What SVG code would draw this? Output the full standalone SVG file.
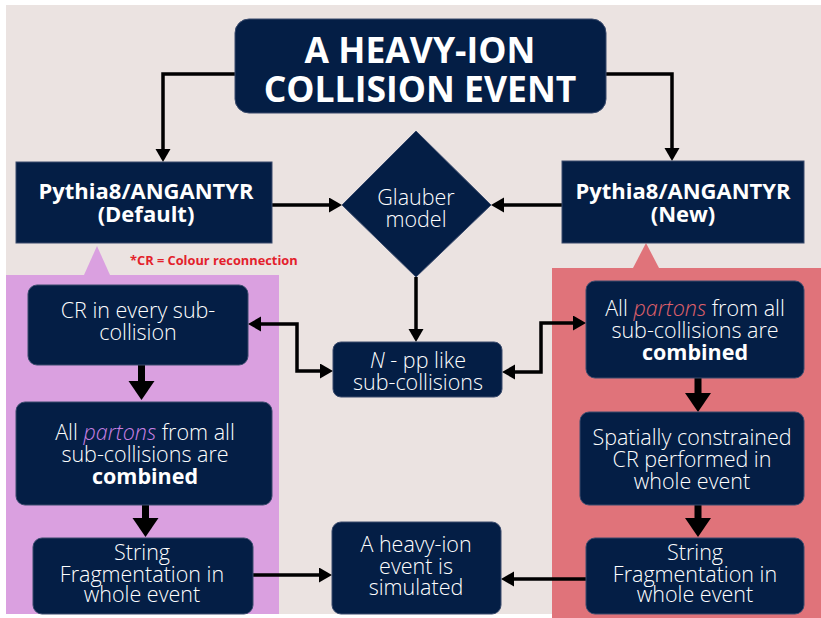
<svg xmlns="http://www.w3.org/2000/svg" width="821" height="618" viewBox="0 0 821 618">
  <defs>
    <style>
      .box { fill: #041e45; stroke: #3a4b6d; stroke-width: 1; }
      .t { font-family: "Open Sans", "Liberation Sans", sans-serif; font-size: 21.5px; font-weight: 300; fill: #ffffff; text-anchor: middle; }
      .hd { font-family: "Open Sans", "Liberation Sans", sans-serif; font-size: 22px; font-weight: 700; fill: #ffffff; text-anchor: middle; }
      .ttl { font-family: "Open Sans", "Liberation Sans", sans-serif; font-size: 35.5px; font-weight: 700; fill: #ffffff; text-anchor: middle; }
      .b { font-weight: 700; }
      .link { fill: none; stroke: #000000; stroke-width: 3.5; marker-end: url(#arrow); }
      .both { marker-start: url(#arrow); }
      .thick { fill: none; stroke: #000000; stroke-width: 7; marker-end: url(#bigArrow); }
    </style>
    <marker id="arrow" markerUnits="userSpaceOnUse" markerWidth="14" markerHeight="16" refX="9" refY="7.5" orient="auto-start-reverse">
      <path d="M0,0 L13,7.5 L0,15 Z" fill="#000000"/>
    </marker>
    <marker id="bigArrow" markerUnits="userSpaceOnUse" markerWidth="20" markerHeight="27" refX="12" refY="13" orient="auto">
      <path d="M0,0 L19,13 L0,26 Z" fill="#000000"/>
    </marker>
  </defs>

  <!-- page -->
  <rect x="0" y="0" width="821" height="618" fill="#ffffff"/>
  <rect x="6" y="5" width="815" height="609" fill="#ebe3e1"/>

  <!-- highlight panels -->
  <g id="panel-default">
    <rect x="6" y="275" width="273" height="339" fill="#daa0e0"/>
    <polygon points="84,275 97,246 110,275" fill="#daa0e0"/>
  </g>
  <g id="panel-new">
    <rect x="552" y="268" width="269" height="350" fill="#e0737a"/>
    <polygon points="633,268 646,243 659,268" fill="#e0737a"/>
  </g>

  <!-- connectors -->
  <g id="connectors">
    <path class="link" d="M235,74 H163 V158"/>
    <path class="link" d="M606,74 H672 V157"/>
    <path class="link" d="M272,205 H338"/>
    <path class="link" d="M562,205 H495"/>
    <path class="link" d="M416,277 V338"/>
    <path class="link both" d="M252,324 H297 V371 H329"/>
    <path class="link both" d="M506,372 H541 V323 H582"/>
    <path class="link" d="M253,575 H328"/>
    <path class="link" d="M586,579 H505"/>
    <path class="thick" d="M141.5,365 V393"/>
    <path class="thick" d="M145.5,505 V530"/>
    <path class="thick" d="M698,378 V405"/>
    <path class="thick" d="M698,505 V530"/>
  </g>

  <g id="title">
    <rect class="box" x="235" y="19" width="371" height="94" rx="14"/>
    <text class="ttl" x="420" y="63">A HEAVY-ION</text>
    <text class="ttl" x="420" y="102">COLLISION EVENT</text>
  </g>

  <g id="angantyr-default">
    <rect class="box" x="16" y="162" width="256" height="81"/>
    <text class="hd" x="146" y="199">Pythia8/ANGANTYR</text>
    <text class="hd" x="146" y="221.5">(Default)</text>
  </g>

  <g id="angantyr-new">
    <rect class="box" x="562" y="161" width="242" height="82"/>
    <text class="hd" x="683" y="199">Pythia8/ANGANTYR</text>
    <text class="hd" x="683" y="222">(New)</text>
  </g>

  <text id="cr-note" x="130" y="265" font-family="'Open Sans', 'Liberation Sans', sans-serif" font-size="12.8" font-weight="700" fill="#e3212b">*CR = Colour reconnection</text>

  <g id="glauber">
    <polygon class="box" points="416,131 491,205 416,277 342,205"/>
    <text class="t" x="416" y="205" font-size="22">Glauber</text>
    <text class="t" x="416" y="227" font-size="22">model</text>
  </g>

  <g id="sub-collisions">
    <rect class="box" x="333" y="342" width="169" height="55" rx="8"/>
    <text class="t" x="418" y="368"><tspan font-style="italic">N</tspan> - pp like</text>
    <text class="t" x="418" y="390">sub-collisions</text>
  </g>

  <g id="cr-every">
    <rect class="box" x="28" y="285" width="220" height="80" rx="9"/>
    <text class="t" x="138" y="318">CR in every sub-</text>
    <text class="t" x="138" y="340">collision</text>
  </g>

  <g id="partons-default">
    <rect class="box" x="16" y="402" width="256" height="103" rx="9"/>
    <text class="t" x="145" y="440">All <tspan font-style="italic" fill="#c980e3">partons</tspan> from all</text>
    <text class="t" x="145" y="462">sub-collisions are</text>
    <text class="t b" x="145" y="484">combined</text>
  </g>

  <g id="string-default">
    <rect class="box" x="33" y="538" width="220" height="76" rx="9"/>
    <text class="t" x="142" y="560">String</text>
    <text class="t" x="142" y="581.5">Fragmentation in</text>
    <text class="t" x="142" y="601.5">whole event</text>
  </g>

  <g id="simulated">
    <rect class="box" x="332" y="522" width="169" height="92" rx="9"/>
    <text class="t" x="416" y="552">A heavy-ion</text>
    <text class="t" x="416" y="574">event is</text>
    <text class="t" x="416" y="595">simulated</text>
  </g>

  <g id="partons-new">
    <rect class="box" x="586" y="281" width="218" height="97" rx="9"/>
    <text class="t" x="695" y="316">All <tspan font-style="italic" fill="#e0616b">partons</tspan> from all</text>
    <text class="t" x="695" y="338">sub-collisions are</text>
    <text class="t b" x="695" y="360">combined</text>
  </g>

  <g id="spatial-cr">
    <rect class="box" x="580" y="412" width="224" height="93" rx="9"/>
    <text class="t" x="692" y="445">Spatially constrained</text>
    <text class="t" x="692" y="467">CR performed in</text>
    <text class="t" x="692" y="489">whole event</text>
  </g>

  <g id="string-new">
    <rect class="box" x="586" y="538" width="218" height="76" rx="9"/>
    <text class="t" x="695" y="560">String</text>
    <text class="t" x="695" y="581.5">Fragmentation in</text>
    <text class="t" x="695" y="601.5">whole event</text>
  </g>
</svg>
